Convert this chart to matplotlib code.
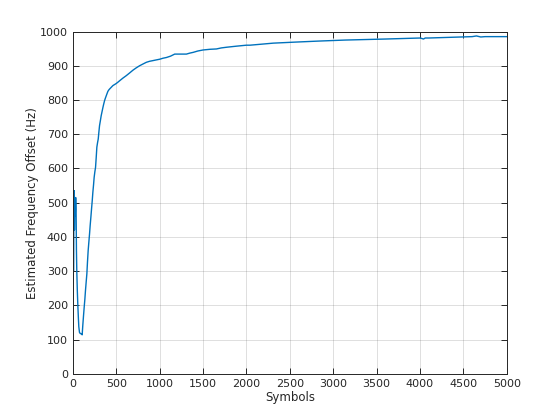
import numpy as np
import matplotlib.pyplot as plt

# Estimated frequency offset (symbols, Hz)
symbols = np.array([0, 0, 2, 5, 8, 12, 16, 19, 24, 28, 33, 38, 42, 46, 52, 58, 64, 69,
                    77, 85, 95, 108, 115, 123, 131, 139, 146, 154, 162, 169, 177, 185,
                    193, 200, 208, 216, 224, 231, 239, 246, 254, 262, 270, 277, 285,
                    293, 300, 308, 318, 327, 337, 347, 356, 366, 375, 385, 395, 404,
                    414, 424, 443, 462, 481, 500, 520, 539, 578, 616, 655, 693, 732,
                    770, 808, 847, 885, 924, 962, 1001, 1040, 1078, 1126, 1174, 1240,
                    1309, 1350, 1386, 1440, 1500, 1580, 1655, 1710, 1771, 1880, 2000,
                    2041, 2176, 2310, 2561, 2830, 3138, 3600, 4004, 4040, 4060, 4100,
                    4601, 4650, 4700, 4750, 5000])
offset = np.array([0, 500, 263, 520, 300, 470, 535, 420, 510, 460, 515, 480, 360,
                   300, 243, 200, 165, 138, 121, 118, 117, 114, 141, 168, 194,
                   218, 243, 268, 292, 326, 360, 385, 409, 433, 457, 482, 506, 530,
                   552, 574, 590, 603, 633, 662, 675, 686, 705, 725, 740, 754, 766,
                   778, 788, 798, 805, 812, 819, 825, 829, 832, 837, 842, 845, 848,
                   852, 856, 864, 871, 879, 887, 894, 900, 905, 910, 913, 915, 917,
                   919, 922, 924, 928, 934, 934, 934, 937, 939, 943, 946, 948, 949,
                   952, 954, 957, 960, 960, 963, 966, 969, 972, 975, 978, 981, 978,
                   981, 981, 985, 987, 984, 985, 985])

plt.rcParams['font.family'] = 'DejaVu Sans'
fig = plt.figure(figsize=(5.6, 4.2), dpi=100)
ax = fig.add_axes([0.13, 0.11, 0.775, 0.815])

ax.plot(symbols, offset, color='#0072BD', lw=1)

ax.set_xlim(0, 5000)
ax.set_ylim(0, 1000)
ax.set_xticks(np.arange(0, 5001, 500))
ax.set_yticks(np.arange(0, 1001, 100))
ax.grid(True, color='#262626', alpha=0.15, lw=0.7)
ax.tick_params(direction='in', top=True, right=True, labelsize=8, colors='#262626',
               length=4, width=0.7)
for s in ax.spines.values():
    s.set_color('#262626')
    s.set_linewidth(0.7)
ax.set_xlabel('Symbols', fontsize=8.5, color='#262626', labelpad=2)
ax.set_ylabel('Estimated Frequency Offset (Hz)', fontsize=8.5, color='#262626', labelpad=0.5)

fig.savefig('out.png', dpi=100)
